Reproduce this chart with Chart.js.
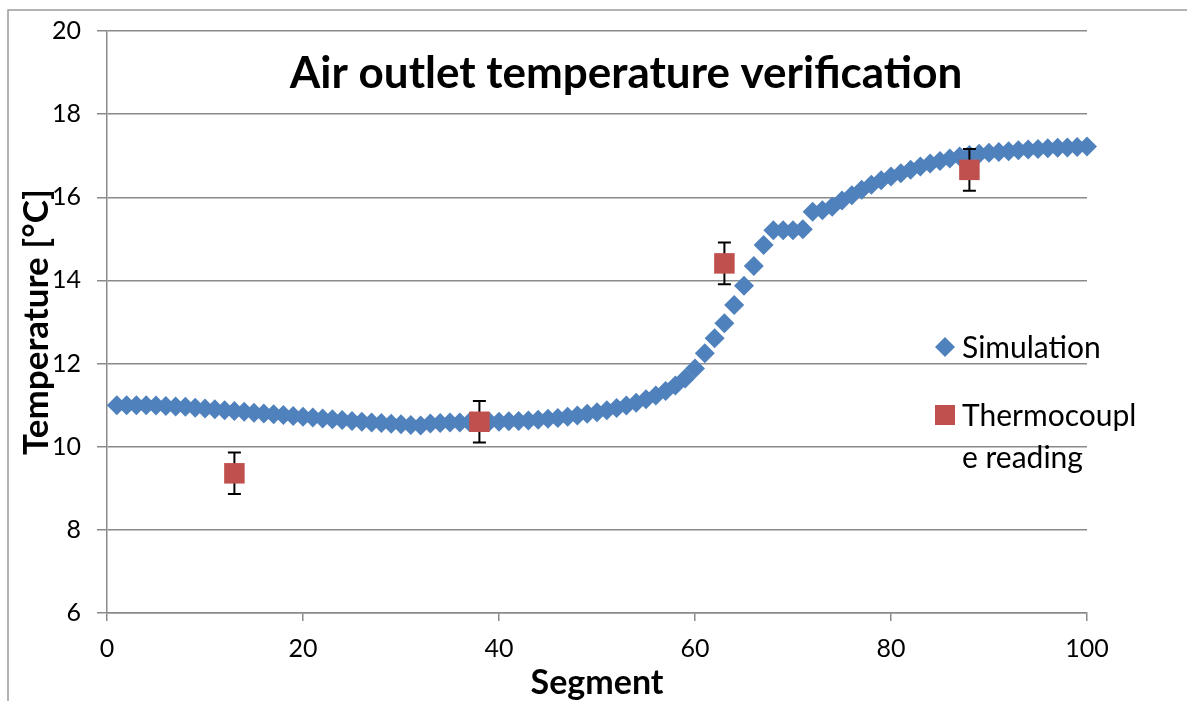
<!DOCTYPE html>
<html>
<head>
<meta charset="utf-8">
<title>Air outlet temperature verification</title>
<script src="https://cdn.jsdelivr.net/npm/chart.js@4.4.1/dist/chart.umd.min.js"></script>
<style>
  html, body { margin: 0; padding: 0; background: #fff; }
  canvas { display: block; }
</style>
</head>
<body>
<canvas id="tempChart" width="1187" height="701"></canvas>
<script>
// Segment numbers along the heat exchanger
const segments = [
  1, 2, 3, 4, 5, 6, 7, 8, 9, 10,
  11, 12, 13, 14, 15, 16, 17, 18, 19, 20,
  21, 22, 23, 24, 25, 26, 27, 28, 29, 30,
  31, 32, 33, 34, 35, 36, 37, 38, 39, 40,
  41, 42, 43, 44, 45, 46, 47, 48, 49, 50,
  51, 52, 53, 54, 55, 56, 57, 58, 59, 60,
  61, 62, 63, 64, 65, 66, 67, 68, 69, 70,
  71, 72, 73, 74, 75, 76, 77, 78, 79, 80,
  81, 82, 83, 84, 85, 86, 87, 88, 89, 90,
  91, 92, 93, 94, 95, 96, 97, 98, 99, 100
];

// Simulated air outlet temperature per segment [°C]
const simTemps = [
  11.00, 11.00, 11.00, 11.00, 10.99, 10.98, 10.97, 10.96, 10.94, 10.92,
  10.90, 10.88, 10.86, 10.84, 10.82, 10.80, 10.78, 10.76, 10.74, 10.72,
  10.70, 10.68, 10.66, 10.64, 10.62, 10.60, 10.58, 10.57, 10.55, 10.54,
  10.52, 10.51, 10.56, 10.57, 10.58, 10.58, 10.59, 10.60, 10.60, 10.60,
  10.61, 10.62, 10.63, 10.65, 10.67, 10.69, 10.72, 10.75, 10.79, 10.83,
  10.88, 10.93, 10.99, 11.06, 11.14, 11.23, 11.34, 11.47, 11.64, 11.88,
  12.25, 12.61, 12.97, 13.41, 13.87, 14.35, 14.85, 15.21, 15.21, 15.21,
  15.23, 15.65, 15.69, 15.77, 15.92, 16.05, 16.18, 16.30, 16.41, 16.50,
  16.58, 16.66, 16.74, 16.81, 16.87, 16.93, 16.98, 17.02, 17.05, 17.07,
  17.09, 17.11, 17.13, 17.15, 17.16, 17.18, 17.19, 17.20, 17.21, 17.22
];

// Thermocouple measurements with their uncertainty
const tcSegments = [13, 38, 63, 88];
const tcTemps = [9.36, 10.6, 14.41, 16.66];
const tcErrors = [0.5, 0.5, 0.5, 0.5];

// Axis ranges
const xMin = 0, xMax = 100, xStep = 20;
const yMin = 6, yMax = 20, yStep = 2;

const blue = '#4F81BD';
const red = '#C0504D';
const gridGrey = '#8a8a8a';
const fontFamily = 'Lato, "Open Sans", sans-serif';

const simPoints = segments.map((s, i) => ({ x: s, y: simTemps[i] }));
const tcPoints = tcSegments.map((s, i) => ({ x: s, y: tcTemps[i] }));

// white background and the thin outer frame
const framePlugin = {
  id: 'frame',
  beforeDraw(chart) {
    const c = chart.ctx;
    c.save();
    c.fillStyle = '#fff';
    c.fillRect(0, 0, chart.width, chart.height);
    c.strokeStyle = '#9a9a9a';
    c.lineWidth = 1.5;
    c.strokeRect(8, 10, chart.width + 20, chart.height + 20);
    c.restore();
  }
};

// error bars drawn right after the simulation series, below the red squares
const errorBarPlugin = {
  id: 'errorBars',
  afterDatasetDraw(chart, args) {
    if (args.index !== 0) return;
    const c = chart.ctx;
    const xs = chart.scales.x, ys = chart.scales.y;
    c.save();
    c.strokeStyle = '#000';
    c.lineWidth = 2;
    tcSegments.forEach((s, i) => {
      const px = xs.getPixelForValue(s);
      const top = ys.getPixelForValue(tcTemps[i] + tcErrors[i]);
      const bot = ys.getPixelForValue(tcTemps[i] - tcErrors[i]);
      c.beginPath();
      c.moveTo(px, top); c.lineTo(px, bot);
      c.moveTo(px - 6.5, top); c.lineTo(px + 6.5, top);
      c.moveTo(px - 6.5, bot); c.lineTo(px + 6.5, bot);
      c.stroke();
    });
    c.restore();
  }
};

// title and legend sit inside the plot area
const overlayPlugin = {
  id: 'overlay',
  afterDraw(chart) {
    const c = chart.ctx;
    c.save();
    c.fillStyle = '#000';
    c.textBaseline = 'middle';
    c.textAlign = 'center';
    c.font = 'bold 44px ' + fontFamily;
    c.fillText('Air outlet temperature verification', 626, 74);

    // legend
    c.textAlign = 'left';
    c.font = '30px ' + fontFamily;
    c.fillStyle = blue;
    c.beginPath();
    c.moveTo(945, 337); c.lineTo(955, 347); c.lineTo(945, 357); c.lineTo(935, 347);
    c.closePath();
    c.fill();
    c.fillStyle = red;
    c.fillRect(935, 405, 20, 20);
    c.fillStyle = '#000';
    c.fillText('Simulation', 962, 348);
    c.fillText('Thermocoupl', 962, 416);
    c.fillText('e reading', 962, 458);
    c.restore();
  }
};

const ctx = document.getElementById('tempChart').getContext('2d');
const tempChart = new Chart(ctx, {
  type: 'scatter',
  data: {
    datasets: [
      {
        label: 'Simulation',
        data: simPoints,
        pointStyle: 'rectRot',
        pointRadius: 10,
        backgroundColor: blue,
        borderWidth: 0,
        order: 2,
        clip: false
      },
      {
        label: 'Thermocouple reading',
        data: tcPoints,
        pointStyle: 'rect',
        pointRadius: 14.5,
        backgroundColor: red,
        borderWidth: 0,
        order: 1,
        clip: false
      }
    ]
  },
  options: {
    responsive: false,
    animation: false,
    events: [],
    layout: { padding: { top: 31, right: 100, left: 0, bottom: 0 } },
    plugins: {
      legend: { display: false },
      tooltip: { enabled: false }
    },
    scales: {
      x: {
        type: 'linear',
        min: xMin,
        max: xMax,
        ticks: { stepSize: xStep, color: '#000', font: { family: fontFamily, size: 25 }, padding: 13 },
        grid: { display: true, drawOnChartArea: false, color: gridGrey, lineWidth: 1.5, tickLength: 8 },
        border: { color: gridGrey, width: 1.5 },
        title: {
          display: true,
          text: 'Segment',
          color: '#000',
          font: { family: fontFamily, size: 34, weight: 'bold', lineHeight: 1.05 },
          padding: { top: 0, bottom: 0 }
        },
        afterFit(scale) { scale.height = 88; }
      },
      y: {
        min: yMin,
        max: yMax,
        ticks: { stepSize: yStep, color: '#000', font: { family: fontFamily, size: 25 }, padding: 16 },
        grid: { color: gridGrey, lineWidth: 1.5, tickLength: 10 },
        border: { color: gridGrey, width: 1.5 },
        title: {
          display: true,
          text: 'Temperature [°C]',
          color: '#000',
          font: { family: fontFamily, size: 35, weight: 'bold' },
          padding: { top: 16, bottom: 0 }
        },
        afterFit(scale) { scale.width = 107; }
      }
    }
  },
  plugins: [framePlugin, errorBarPlugin, overlayPlugin]
});
</script>
</body>
</html>
